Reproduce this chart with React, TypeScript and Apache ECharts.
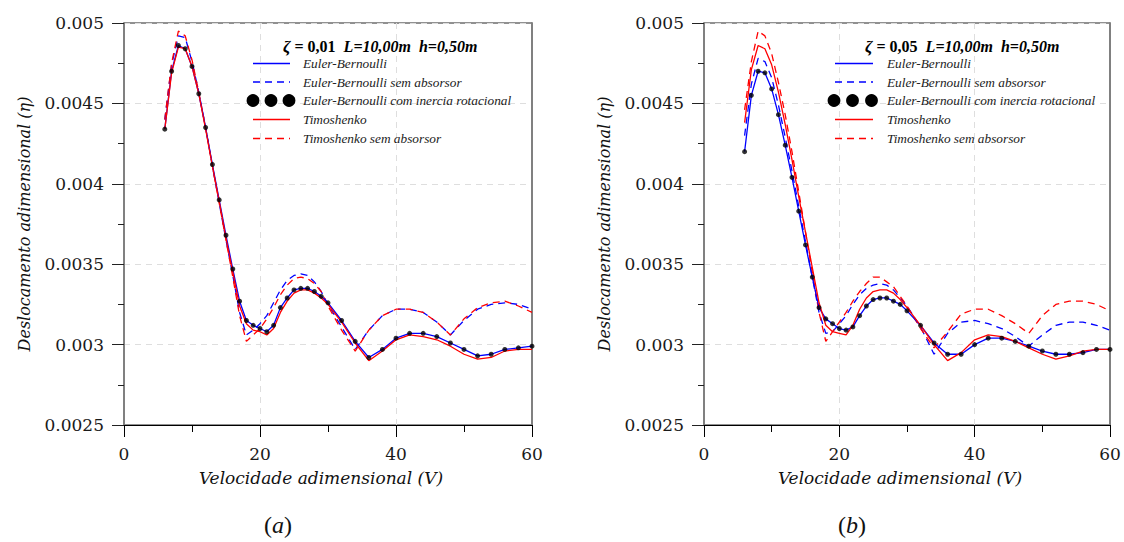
import React, { useEffect, useRef } from "react";
import * as echarts from "echarts";

// Dimensionless speed V (sample positions)
const V = [6, 7, 8, 9, 10, 11, 12, 13, 14, 15, 16, 17, 18, 19, 20, 21, 22, 23, 24, 25, 26, 27, 28, 29, 30,
  32, 34, 36, 38, 40, 42, 44, 46, 48, 50, 52, 54, 56, 58, 60];

// (a) zeta = 0,01
const aEB = [0.00434, 0.00470, 0.00486, 0.00484, 0.00473, 0.00456, 0.00435, 0.00412, 0.00390, 0.00368, 0.00347, 0.00327, 0.00315, 0.00312, 0.00310, 0.00308, 0.00312, 0.00323, 0.00329, 0.00334, 0.00335, 0.00335, 0.00333, 0.00330, 0.00326,
  0.00315, 0.00302, 0.00292, 0.00297, 0.00304, 0.00307, 0.00307, 0.00305, 0.00301, 0.00297, 0.00293, 0.00294, 0.00297, 0.00298, 0.00299];
const aEBsem = [0.00440, 0.00474, 0.00492, 0.00491, 0.00476, 0.00457, 0.00435, 0.00411, 0.00388, 0.00365, 0.00343, 0.00320, 0.00306, 0.00309, 0.00313, 0.00318, 0.00326, 0.00334, 0.00340, 0.00343, 0.00344, 0.00343, 0.00339, 0.00333, 0.00325,
  0.00311, 0.00297, 0.00309, 0.00318, 0.00322, 0.00322, 0.00320, 0.00314, 0.00306, 0.00315, 0.00322, 0.00325, 0.00326, 0.00325, 0.00322];
const aEBrot = [0.00434, 0.00470, 0.00486, 0.00484, 0.00473, 0.00456, 0.00435, 0.00412, 0.00390, 0.00368, 0.00347, 0.00327, 0.00315, 0.00312, 0.00310, 0.00308, 0.00312, 0.00323, 0.00329, 0.00334, 0.00335, 0.00335, 0.00333, 0.00330, 0.00326,
  0.00315, 0.00302, 0.00292, 0.00297, 0.00304, 0.00307, 0.00307, 0.00305, 0.00301, 0.00297, 0.00293, 0.00294, 0.00297, 0.00298, 0.00299];
const aTim = [0.00434, 0.00469, 0.00485, 0.00484, 0.00473, 0.00456, 0.00434, 0.00411, 0.00389, 0.00366, 0.00345, 0.00324, 0.00313, 0.00309, 0.00308, 0.00306, 0.00310, 0.00320, 0.00327, 0.00332, 0.00334, 0.00334, 0.00332, 0.00329, 0.00325,
  0.00314, 0.00301, 0.00290, 0.00296, 0.00303, 0.00306, 0.00305, 0.00303, 0.00299, 0.00294, 0.00291, 0.00292, 0.00296, 0.00297, 0.00297];
const aTimSem = [0.00440, 0.00475, 0.00495, 0.00492, 0.00477, 0.00457, 0.00435, 0.00411, 0.00388, 0.00365, 0.00342, 0.00318, 0.00302, 0.00306, 0.00310, 0.00316, 0.00323, 0.00331, 0.00337, 0.00341, 0.00342, 0.00341, 0.00338, 0.00333, 0.00324,
  0.00309, 0.00296, 0.00309, 0.00318, 0.00322, 0.00322, 0.00320, 0.00314, 0.00306, 0.00316, 0.00323, 0.00326, 0.00327, 0.00324, 0.00320];

// (b) zeta = 0,05
const bEB = [0.00420, 0.00455, 0.00470, 0.00469, 0.00459, 0.00443, 0.00424, 0.00404, 0.00383, 0.00362, 0.00342, 0.00323, 0.00316, 0.00313, 0.00310, 0.00309, 0.00311, 0.00318, 0.00324, 0.00328, 0.00329, 0.00329, 0.00327, 0.00325, 0.00321,
  0.00312, 0.00301, 0.00294, 0.00294, 0.00300, 0.00304, 0.00304, 0.00302, 0.00299, 0.00296, 0.00294, 0.00294, 0.00295, 0.00297, 0.00297];
const bEBsem = [0.00430, 0.00462, 0.00478, 0.00476, 0.00466, 0.00449, 0.00429, 0.00408, 0.00386, 0.00364, 0.00342, 0.00320, 0.00307, 0.00308, 0.00313, 0.00318, 0.00325, 0.00331, 0.00335, 0.00337, 0.00338, 0.00337, 0.00334, 0.00329, 0.00324,
  0.00311, 0.00294, 0.00307, 0.00314, 0.00315, 0.00313, 0.00310, 0.00305, 0.00299, 0.00306, 0.00312, 0.00314, 0.00314, 0.00312, 0.00309];
const bEBrot = [0.00420, 0.00455, 0.00470, 0.00469, 0.00459, 0.00443, 0.00424, 0.00404, 0.00383, 0.00362, 0.00342, 0.00323, 0.00316, 0.00313, 0.00310, 0.00309, 0.00311, 0.00318, 0.00324, 0.00328, 0.00329, 0.00329, 0.00327, 0.00325, 0.00321,
  0.00312, 0.00301, 0.00294, 0.00294, 0.00300, 0.00304, 0.00304, 0.00302, 0.00299, 0.00296, 0.00294, 0.00294, 0.00295, 0.00297, 0.00297];
const bTim = [0.00438, 0.00471, 0.00486, 0.00484, 0.00474, 0.00457, 0.00437, 0.00415, 0.00392, 0.00370, 0.00348, 0.00326, 0.00312, 0.00308, 0.00307, 0.00306, 0.00312, 0.00322, 0.00329, 0.00333, 0.00334, 0.00334, 0.00332, 0.00328, 0.00323,
  0.00312, 0.00300, 0.00290, 0.00295, 0.00303, 0.00306, 0.00305, 0.00302, 0.00298, 0.00294, 0.00291, 0.00293, 0.00296, 0.00297, 0.00297];
const bTimSem = [0.00446, 0.00476, 0.00495, 0.00492, 0.00481, 0.00463, 0.00443, 0.00420, 0.00395, 0.00370, 0.00345, 0.00320, 0.00302, 0.00308, 0.00314, 0.00320, 0.00327, 0.00333, 0.00338, 0.00342, 0.00342, 0.00339, 0.00336, 0.00330, 0.00324,
  0.00310, 0.00298, 0.00308, 0.00319, 0.00322, 0.00322, 0.00318, 0.00313, 0.00307, 0.00318, 0.00325, 0.00327, 0.00327, 0.00325, 0.00321];

const seriesNames = [
  "Euler-Bernoulli",
  "Euler-Bernoulli sem absorsor",
  "Euler-Bernoulli com inercia rotacional",
  "Timoshenko",
  "Timoshenko sem absorsor",
];
const panelZeta = ["0,01", "0,05"];
const panelCaption = ["a", "b"];
const yTicks = [0.0025, 0.003, 0.0035, 0.004, 0.0045, 0.005];
const yTickLabels = ["0.0025", "0.003", "0.0035", "0.004", "0.0045", "0.005"];
const xTickLabels = ["0", "20", "40", "60"];

const BLUE = "#0000ff";
const RED = "#ff0000";
const SERIF = "'DejaVu Serif', serif";
const LSERIF = "'Liberation Serif', serif";

function pairs(ys: number[]) {
  return V.map((v, i) => [v, ys[i]]);
}

export default function App() {
  const ref = useRef<HTMLDivElement>(null);
  useEffect(() => {
    if (!ref.current) return;
    const chart = echarts.init(ref.current, undefined, { renderer: "svg" });

    const grids = [
      { left: 124, top: 23, width: 408, height: 402 },
      { left: 704, top: 23, width: 406, height: 402 },
    ];

    const xAxes = grids.map((_, gi) => ({
      type: "value",
      gridIndex: gi,
      min: 0,
      max: 60,
      interval: 20,
      name: "Velocidade adimensional (V)",
      nameLocation: "middle",
      nameGap: 44,
      nameTextStyle: {
        fontFamily: SERIF,
        fontStyle: "italic",
        fontSize: 17,
        color: "#111",
        padding: [0, 14, 0, 0],
      },
      axisLine: { show: true, onZero: false, lineStyle: { color: "#000", width: 1 } },
      axisTick: { show: true, length: 12, lineStyle: { color: "#000" } },
      minorTick: { show: true, splitNumber: 2, length: 7, lineStyle: { color: "#000" } },
      axisLabel: {
        margin: 20,
        fontFamily: SERIF,
        fontSize: 17,
        color: "#1a1a1a",
        formatter: (v: number) => xTickLabels[Math.round(v / 20)] ?? String(v),
      },
      splitLine: { show: true, lineStyle: { color: "#dedede", type: [6, 5], width: 1 } },
    }));

    const yAxes: any[] = [];
    grids.forEach((_, gi) => {
      yAxes.push({
        type: "value",
        gridIndex: gi,
        min: 0.0025,
        max: 0.005,
        interval: 0.0005,
        name: "Deslocamento adimensional (η)",
        nameLocation: "middle",
        nameGap: 92,
        nameTextStyle: { fontFamily: SERIF, fontStyle: "italic", fontSize: 16, color: "#111" },
        axisLine: { show: true, onZero: false, lineStyle: { color: "#808080", width: 2 } },
        axisTick: { show: true, length: 12, lineStyle: { color: "#222" } },
        minorTick: { show: true, splitNumber: 2, length: 6, lineStyle: { color: "#222" } },
        axisLabel: {
          margin: 20,
          fontFamily: SERIF,
          fontSize: 17,
          color: "#1a1a1a",
          formatter: (v: number) => {
            const i = yTicks.findIndex((t) => Math.abs(t - v) < 1e-9);
            return i >= 0 ? yTickLabels[i] : "";
          },
        },
        splitLine: { show: true, lineStyle: { color: "#dedede", type: [6, 5], width: 1 } },
      });
      yAxes.push({
        type: "value",
        gridIndex: gi,
        position: "right",
        min: 0.0025,
        max: 0.005,
        interval: 0.0005,
        axisLine: { show: true, onZero: false, lineStyle: { color: "#808080", width: 2 } },
        axisTick: { show: false },
        axisLabel: { show: false },
        splitLine: { show: false },
      });
    });

    const panels = [
      [aEB, aEBsem, aEBrot, aTim, aTimSem],
      [bEB, bEBsem, bEBrot, bTim, bTimSem],
    ];

    const series: any[] = [];
    panels.forEach((p, gi) => {
      const yi = gi * 2;
      const lineSeries = (name: string, ys: number[], color: string, dashed: boolean, z: number) => ({
        type: "line",
        name,
        xAxisIndex: gi,
        yAxisIndex: yi,
        data: pairs(ys),
        symbol: "none",
        z,
        lineStyle: { color, width: 1.3, type: dashed ? [7, 5] : "solid" },
        itemStyle: { color },
      });
      series.push(lineSeries(seriesNames[1], p[1], BLUE, true, 2));
      series.push(lineSeries(seriesNames[4], p[4], RED, true, 3));
      series.push(lineSeries(seriesNames[0], p[0], BLUE, false, 4));
      series.push(lineSeries(seriesNames[3], p[3], RED, false, 5));
      series.push({
        type: "scatter",
        name: seriesNames[2],
        xAxisIndex: gi,
        yAxisIndex: yi,
        data: pairs(p[2]),
        symbol: "circle",
        symbolSize: 5,
        z: 6,
        itemStyle: { color: "#000" },
      });
    });

    // Legend drawn as graphics
    const graphics: any[] = [];
    const legendLayouts = [
      { lineX1: 253, lineX2: 290, textX: 303, titleX: 283, circles: [253, 271, 289] },
      { lineX1: 835, lineX2: 873, textX: 887, titleX: 865, circles: [834, 852.5, 871.5] },
    ];
    const rowsY = [63.5, 82, 100.5, 119.5, 138.5];
    const rowStyle = [
      { color: BLUE, dash: false },
      { color: BLUE, dash: true },
      null,
      { color: RED, dash: false },
      { color: RED, dash: true },
    ];
    legendLayouts.forEach((L, gi) => {
      graphics.push({
        type: "text",
        x: L.titleX,
        y: 46,
        z: 100,
        style: {
          text: `{z|ζ}{n| = ${panelZeta[gi]}  }{c|L=10,00m  h=0,50m}`,
          verticalAlign: "middle",
          rich: {
            z: { fontFamily: LSERIF, fontStyle: "italic", fontWeight: "bold", fontSize: 17, fill: "#000" },
            n: { fontFamily: LSERIF, fontWeight: "bold", fontSize: 16, fill: "#000" },
            c: { fontFamily: LSERIF, fontStyle: "italic", fontWeight: "bold", fontSize: 16, fill: "#000" },
          },
        },
      });
      rowsY.forEach((y, ri) => {
        const st = rowStyle[ri];
        if (st) {
          graphics.push({
            type: "line",
            z: 100,
            shape: { x1: L.lineX1, y1: y, x2: L.lineX2, y2: y },
            style: { stroke: st.color, lineWidth: 1.3, lineDash: st.dash ? [7, 5] : null },
          });
        } else {
          L.circles.forEach((cx) => {
            graphics.push({
              type: "circle",
              z: 100,
              shape: { cx, cy: y, r: 6.4 },
              style: { fill: "#000", stroke: "#000", lineWidth: 0 },
            });
          });
        }
        graphics.push({
          type: "text",
          x: L.textX,
          y,
          z: 100,
          style: {
            text: seriesNames[ri],
            fontFamily: LSERIF,
            fontStyle: "italic",
            fontSize: 13.3,
            fill: "#222",
            verticalAlign: "middle",
          },
        });
      });
    });
    // captions
    const captionX = [278, 852];
    captionX.forEach((cx, gi) => {
      graphics.push({
        type: "text",
        x: cx,
        y: 525,
        z: 100,
        style: {
          text: `{p|(}{i|${panelCaption[gi]}}{p|)}`,
          align: "center",
          verticalAlign: "middle",
          rich: {
            p: { fontFamily: LSERIF, fontSize: 24, fill: "#111" },
            i: { fontFamily: LSERIF, fontStyle: "italic", fontSize: 24, fill: "#111" },
          },
        },
      });
    });

    chart.setOption({
      animation: false,
      backgroundColor: "#fff",
      grid: grids.map((g) => ({ ...g, show: true, borderColor: "#222", borderWidth: 1, backgroundColor: "transparent" })),
      xAxis: xAxes,
      yAxis: yAxes,
      series,
      graphic: graphics,
    });
    return () => chart.dispose();
  }, []);

  return <div ref={ref} style={{ position: "absolute", left: 0, top: 0, width: 1124, height: 542 }} />;
}
